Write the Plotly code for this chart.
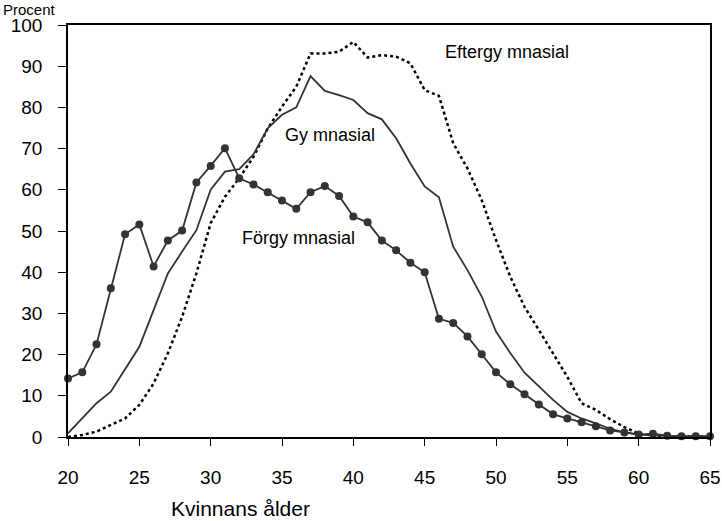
import plotly.graph_objects as go

ages = list(range(20, 66))

forgymnasial = [14.2, 15.7, 22.5, 36.1, 49.2, 51.6, 41.4, 47.7, 50.1, 61.8,
                65.8, 70.1, 62.8, 61.3, 59.4, 57.4, 55.4, 59.4, 60.9, 58.5,
                53.5, 52.1, 47.7, 45.3, 42.3, 40.0, 28.7, 27.7, 24.4, 20.1,
                15.7, 12.8, 10.4, 7.9, 5.5, 4.5, 3.6, 2.6, 1.6, 1.1,
                0.6, 0.8, 0.3, 0.2, 0.2, 0.2]

gymnasial = [0.9, 4.5, 8.2, 11.0, 16.3, 21.9, 30.8, 39.7, 45.0, 50.2,
             60.0, 64.4, 65.0, 68.6, 74.9, 78.2, 80.0, 87.6, 84.0, 83.0,
             81.8, 78.6, 77.1, 72.5, 66.4, 60.8, 58.2, 46.2, 40.5, 34.1,
             25.6, 20.4, 15.6, 12.2, 9.0, 6.1, 4.5, 3.3, 2.0, 1.2,
             0.6, 0.4, 0.2, 0.1, 0.1, 0.1]

eftergymnasial = [0.0, 0.5, 1.3, 2.9, 4.5, 7.8, 13.0, 20.3, 29.2, 39.7,
                  51.9, 58.3, 62.8, 68.0, 74.9, 80.2, 85.0, 93.1, 93.1, 93.5,
                  95.9, 92.1, 92.7, 92.3, 90.7, 84.2, 82.8, 71.3, 65.2, 57.5,
                  47.8, 38.9, 31.6, 26.0, 20.3, 14.6, 8.2, 6.6, 4.3, 2.4,
                  0.8, 0.4, 0.2, 0.1, 0.1, 0.1]

series_labels = ["Förgy mnasial", "Gy mnasial", "Eftergy mnasial"]
x_ticks = list(range(20, 66, 5))
y_ticks = list(range(0, 101, 10))

FONT = "Liberation Sans, Arial, sans-serif"
LINE = "#333333"

fig = go.Figure()
fig.add_trace(go.Scatter(x=ages, y=eftergymnasial, mode="lines",
                         line=dict(color="black", width=2.5, dash="dot"),
                         cliponaxis=False, name=series_labels[2]))
fig.add_trace(go.Scatter(x=ages, y=gymnasial, mode="lines",
                         line=dict(color=LINE, width=1.8),
                         cliponaxis=False, name=series_labels[1]))
fig.add_trace(go.Scatter(x=ages, y=forgymnasial, mode="lines+markers",
                         line=dict(color=LINE, width=1.8),
                         marker=dict(color=LINE, size=8),
                         cliponaxis=False, name=series_labels[0]))

fig.update_layout(
    width=722, height=521,
    margin=dict(l=68, r=12, t=25, b=84, autoexpand=False),
    paper_bgcolor="white", plot_bgcolor="white",
    showlegend=False,
    font=dict(family=FONT, size=19, color="black"),
    xaxis=dict(range=[20, 65], tickvals=x_ticks, showgrid=False, zeroline=False,
               showline=True, linecolor="black", linewidth=1.5, mirror=True,
               ticks="outside", ticklen=7, tickcolor="black",
               ticklabelstandoff=15, automargin=False),
    yaxis=dict(range=[0, 100], tickvals=y_ticks, showgrid=False, zeroline=False,
               showline=True, linecolor="black", linewidth=1.5, mirror=True,
               ticks="outside", ticklen=8, tickcolor="black",
               ticklabelstandoff=12, automargin=False),
    annotations=[
        dict(text="Kvinnans ålder", xref="paper", yref="paper", x=(241 - 68) / 642,
             y=-(521 - 437) / 412, xanchor="center", yanchor="bottom",
             showarrow=False, borderpad=0, font=dict(size=21)),
        dict(text="Procent", xref="paper", yref="paper", x=-66 / 642,
             y=437 / 412, xanchor="left", yanchor="top",
             showarrow=False, borderpad=0, font=dict(size=15)),
        dict(text=series_labels[2], x=46.28, y=93.4, showarrow=False,
             xanchor="left", yanchor="middle", font=dict(size=18)),
        dict(text=series_labels[1], x=38.36, y=73.4, showarrow=False,
             xanchor="center", yanchor="middle", font=dict(size=18)),
        dict(text=series_labels[0], x=36.19, y=48.3, showarrow=False,
             xanchor="center", yanchor="middle", font=dict(size=18)),
    ],
)

fig.write_html("out.html", config={"displayModeBar": False})

# remove the default page margin so the figure fills the 722x521 window exactly
with open("out.html", encoding="utf-8") as f:
    html = f.read()
html = html.replace("<body>", '<body style="margin:0;padding:0;overflow:hidden">', 1)
with open("out.html", "w", encoding="utf-8") as f:
    f.write(html)
